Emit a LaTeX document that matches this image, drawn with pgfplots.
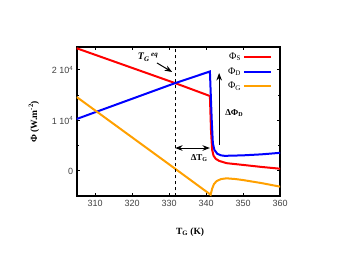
\documentclass[border=0pt]{standalone}
\usepackage{fontspec}
\setmainfont{Liberation Serif}
\newfontfamily\tickfont{Liberation Sans}
\usepackage{pgfplots}
\pgfplotsset{compat=1.18}
\usetikzlibrary{arrows.meta}
\definecolor{cred}{RGB}{255,0,0}
\definecolor{cblue}{RGB}{0,0,255}
\definecolor{corange}{RGB}{255,160,0}
\begin{document}
\begin{tikzpicture}[x=1pt,y=1pt]
\useasboundingbox (0,0) rectangle (350,263);
\begin{axis}[
  at={(76.7pt,66.75pt)}, anchor=south west,
  scale only axis, width=203.5pt, height=149pt,
  xmin=305, xmax=360, ymin=-5000, ymax=24500,
  xtick={310,320,...,360},
  ytick={0,10000,20000},
  yticklabels={0, 1 10\textsuperscript{4}, 2 10\textsuperscript{4}},
  minor ytick={-5000,5000,15000},
  scaled y ticks=false,
  tick align=inside,
  major tick length=3pt, minor tick length=2pt,
  every tick/.style={black, line width=1pt},
  axis line style={line width=2pt},
  ticklabel style={font=\tickfont\fontsize{9}{10}\selectfont, text=black!75},
  /pgf/number format/assume math mode=true,
  xlabel={\textbf{T\textsubscript{G} (K)}},
  ylabel={\textbf{Φ (W.m\textsuperscript{-2})}},
  label style={font=\fontsize{9.5}{11}\selectfont},
  xlabel style={at={(axis description cs:0.557,-0.24)}, anchor=center},
  ylabel style={at={(axis description cs:-0.21,0.5)}, anchor=center},
  legend style={draw=none, fill=none, at={(axis description cs:0.975,0.99)}, anchor=north east, font=\fontsize{10}{11}\selectfont, row sep=2.5pt},
  legend plot pos=right,
  legend cell align=right,
  legend image code/.code={\draw[#1] (0pt,0pt) -- (27pt,0pt);},
]
\addplot[cred, line width=2pt] coordinates {
(305,24300) (331.6,17400) (341.0,14850) (341.3,8000) (341.6,4200) (342.0,3000) (342.6,2400) (343.5,2000) (345.5,1550) (350,1200) (355,800) (360,450)
};
\addlegendentry{Φ\textsubscript{S}}
\addplot[cblue, line width=2pt] coordinates {
(305,10300) (331.6,17400) (341.0,19700) (341.5,10000) (341.8,5500) (342.2,4200) (343,3400) (344,3100) (345,3000) (350,3100) (355,3300) (360,3600)
};
\addlegendentry{Φ\textsubscript{D}}
\addplot[corange, line width=2pt] coordinates {
(305,14650) (331.6,450) (341.2,-4700) (341.6,-3500) (342.1,-2600) (342.8,-2000) (344,-1600) (345.5,-1450) (348,-1600) (350,-1800) (355,-2400) (360,-3100)
};
\addlegendentry{Φ\textsubscript{G}}
\draw[dashed, line width=0.8pt] (axis cs:331.6,-5000) -- (axis cs:331.6,24500);
\draw[-{Stealth}, line width=1pt] (axis cs:326.7,21390) -- (axis cs:330.8,19600);
\node[font=\fontsize{10}{11}\selectfont] at (axis cs:324.3,22570) {\textbf{\textit{T\textsubscript{G}\,\textsuperscript{eq}}}};
\draw[{Stealth}-{Stealth}, line width=1pt] (axis cs:331.6,4550) -- (axis cs:341.0,4550);
\node[font=\fontsize{9}{10}\selectfont] at (axis cs:338.1,2570) {\textbf{ΔT\textsubscript{G}}};
\draw[-{Stealth}, line width=1pt] (axis cs:343.5,5150) -- (axis cs:343.5,19400);
\node[font=\fontsize{9}{10}\selectfont] at (axis cs:347.6,11500) {\textbf{ΔΦ\textsubscript{D}}};
\end{axis}
\end{tikzpicture}
\end{document}
